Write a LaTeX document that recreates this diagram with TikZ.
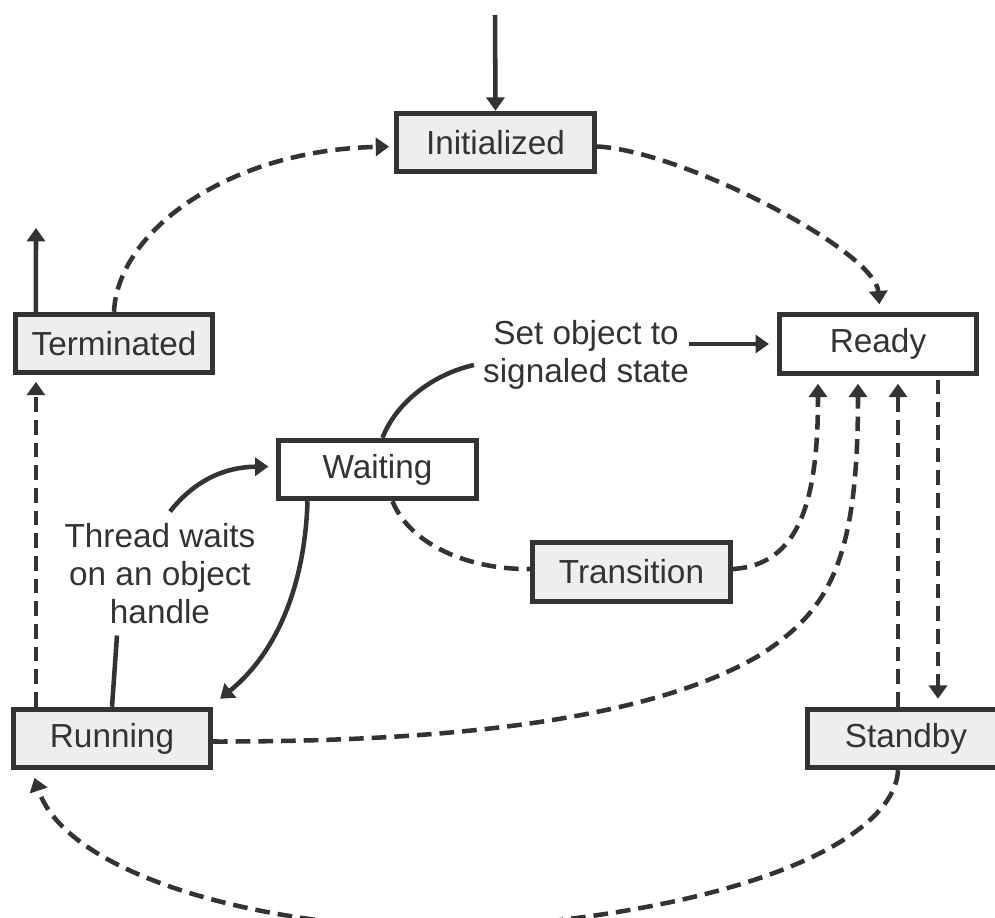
\documentclass[tikz,border=0pt]{standalone}
\usepackage{fontspec}
\setmainfont{Liberation Sans}
\usetikzlibrary{arrows.meta,calc}
\definecolor{ink}{HTML}{333333}
\definecolor{boxgray}{HTML}{EEEEEE}
\begin{document}
\begin{tikzpicture}[x=0.75pt,y=-0.75pt,
  font=\fontsize{25}{28.5}\selectfont, text=ink,
  state/.style={draw=ink, line width=3.6pt, minimum width=148pt, minimum height=44pt, inner sep=0pt, fill=boxgray},
  wstate/.style={state, fill=white},
  lbl/.style={align=center, inner sep=0pt},
  conn/.style={draw=ink, line width=3.4pt},
  dconn/.style={conn, dash pattern=on 11pt off 6pt},
  tip/.style={-{Triangle[length=10pt,width=13.5pt]}},
]
\useasboundingbox (0,0) rectangle (995,917);

% states
\node[state]  (init)  at (495.5,142.5) {Initialized};
\node[state]  (term)  at (114,343.5)   {Terminated};
\node[wstate] (ready) at (878,344)     {Ready};
\node[wstate] (wait)  at (377.5,469.5) {Waiting};
\node[state]  (trans) at (631.5,572)   {Transition};
\node[state]  (run)   at (112,738.5)   {Running};
\node[state]  (stby)  at (906,738.5)   {Standby};

% labels
\node[lbl] (setobj) at (586,355)   {Set object to\\signaled state};
\node[lbl] (thread) at (160,574)   {Thread waits\\on an object\\handle};

% entry and exit
\coordinate (entry) at (495,15);
\coordinate (termexit) at (36,228);
\draw[conn,tip] (entry) -- (init.north);
\draw[conn,tip] ($(term.north west)+(23,0)$) -- (termexit);

% terminated -> initialized
\draw[dconn,tip,shorten >=4pt] (term.north) .. controls (118,230) and (230,150) .. ($(init.west)+(0,4)$);
% initialized -> ready
\draw[dconn,tip,shorten >=6pt] ($(init.east)+(0,4)$) .. controls (680,150) and (875,250) .. ($(ready.north)+(2,0)$);

% running -> terminated
\coordinate (tx) at ($(term.south west)+(23,0)$);
\draw[dconn,tip,shorten >=5pt] (tx |- run.north) -- (tx);

% running -> thread waits label -> waiting
\draw[conn] (run.north) -- ($(thread.south)+(-43,11)$);
\draw[conn,tip,shorten >=6pt] ($(thread.north)+(10,-12)$) .. controls (195,480) and (225,467) .. ($(wait.west)+(0,-3)$);

% waiting -> running
\draw[conn,tip] ($(wait.south)+(-70,0)$) .. controls (305,580) and (280,650) .. ($(run.north east)+(7,-8)$);

% waiting -> set object label -> ready
\draw[conn] ($(wait.north)+(5,0)$) .. controls (395,405) and (430,375) .. ($(setobj.west)+(-9,10)$);
\draw[conn,tip,shorten >=6pt] (setobj.east |- ready.west) -- (ready.west);

% waiting -> transition -> ready
\draw[dconn] ($(wait.south)+(15,0)$) .. controls (410,545) and (470,570) .. ($(trans.west)+(0,-3)$);
\draw[dconn,tip,shorten >=6pt] ($(trans.east)+(0,-3)$) .. controls (800,565) and (818,500) .. ($(ready.south)+(-60,0)$);

% running -> ready
\draw[dconn,tip,shorten >=6pt] ($(run.east)+(0,3)$) .. controls (450,742) and (650,720) .. (760,655)
   .. controls (830,610) and (858,560) .. ($(ready.south)+(-20,0)$);

% ready <-> standby
\draw[dconn,tip,shorten >=6pt] ($(stby.north)+(-8,0)$) -- ($(ready.south)+(20,0)$);
\draw[dconn,tip,shorten <=3pt,shorten >=6pt] ($(ready.south)+(60,0)$) -- ($(stby.north)+(32,0)$);

% standby -> running
\draw[dconn,tip,shorten >=6pt] ($(stby.south)+(-8,0)$) .. controls (895,835) and (760,905) .. (500,926)
   .. controls (310,940) and (70,885) .. ($(run.south west)+(21,0)$);
\end{tikzpicture}
\end{document}
